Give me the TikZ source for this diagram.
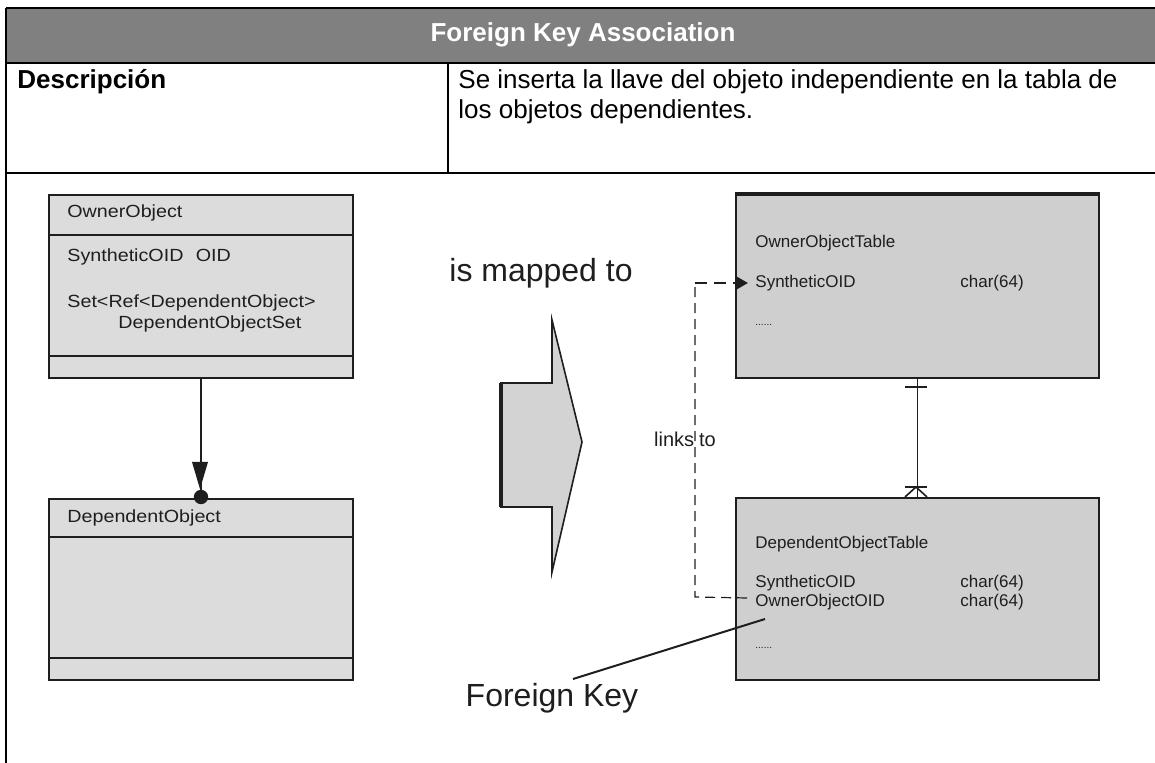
\documentclass[tikz,border=0pt]{standalone}
\usepackage{fontspec}
\setmainfont{Liberation Sans}
\newfontfamily\umlfont{Liberation Sans}[FakeStretch=1.12]
\usetikzlibrary{arrows.meta}

\definecolor{headgray}{RGB}{128,128,128}
\definecolor{umlgray}{RGB}{220,220,220}
\definecolor{tabgray}{RGB}{207,207,207}
\definecolor{shiftgray}{RGB}{211,211,211}
\definecolor{ink}{RGB}{30,30,30}

\begin{document}
\begin{tikzpicture}[x=0.5pt,y=-0.5pt,
  frame/.style={line width=1pt,black},
  celltext/.style={font=\fontsize{13}{15}\selectfont,anchor=west,inner sep=0pt},
  umltext/.style={font=\umlfont\fontsize{8.8}{10}\selectfont,anchor=west,inner sep=0pt,text=ink},
  tabtext/.style={font=\fontsize{8.5}{10}\selectfont,anchor=west,inner sep=0pt,text=ink},
  bigtext/.style={font=\fontsize{16}{18}\selectfont,inner sep=0pt,text=ink},
  classbox/.style={draw=ink,fill=umlgray,line width=1pt,anchor=north west,
    minimum width=152pt,inner sep=0pt},
  tablebox/.style={draw=ink,fill=tabgray,line width=1pt,anchor=north west,
    minimum width=181.5pt,inner sep=0pt},
  divider/.style={draw=ink,line width=0.7pt},
  link/.style={draw=ink,dashed,dash pattern=on 5pt off 3pt,line width=0.6pt},
  linkhead/.style={draw=ink,dash pattern=on 6pt off 3.5pt,line width=1.3pt},
]
\useasboundingbox (0,0) rectangle (1155,763);

% ---- outer table ----
\fill[headgray] (6,8) rectangle (1160,62);
\draw[frame] (6,8) -- (1160,8);
\draw[frame] (6,63) -- (1160,63);
\draw[frame] (6,173) -- (1160,173);
\draw[frame] (6,8) -- (6,770);
\draw[frame] (448,63) -- (448,173);

\node[font=\bfseries\fontsize{13}{15}\selectfont,text=white,inner sep=0pt] (title) at (583,35) {Foreign Key Association};
\node[celltext,font=\bfseries\fontsize{13}{15}\selectfont] (desc) at (17,82) {Descripción};
\node[celltext] (descA) at (458,82) {Se inserta la llave del objeto independiente en la tabla de};
\node[celltext] (descB) at (458,112) {los objetos dependientes.};

% ---- object model ----
\node[classbox,minimum height=91.5pt] (owner) at (48,194) {};
\draw[divider] (48,235) -- (352,235);
\draw[divider] (48,356) -- (352,356);
\node[umltext] (ownerName) at (67,213) {OwnerObject};
\node[umltext] (ownerOID) at (67,257) {SyntheticOID\hspace{0.7em}OID};
\node[umltext] (ownerSetA) at (67,303) {Set<Ref<DependentObject>};
\node[umltext] (ownerSetB) at (118,324) {DependentObjectSet};

\node[classbox,minimum height=90.5pt] (dep) at (48,498) {};
\draw[divider] (48,537) -- (352,537);
\draw[divider] (48,658) -- (352,658);
\node[umltext] (depName) at (67,518) {DependentObject};

\draw[ink,line width=0.9pt] (owner.south) -- (dep.north);
\fill[ink] (192,462) -- (208,462) -- (200,489) -- cycle;
\fill[ink] (dep.north) ++(0,-1) circle (3.6pt);

% ---- mapping arrow ----
\node[bigtext] (mapped) at (541,273) {is mapped to};
\filldraw[fill=shiftgray,draw=ink,line width=0.8pt,line join=miter]
  (501,383) -- (552,383) -- (552,320) -- (582,442) -- (552,572)
  -- (552,507) -- (501,507) -- cycle;
\draw[ink,line width=1.6pt] (501,383) -- (501,507);

% ---- relational model ----
\node[tablebox,minimum height=91.5pt] (ownerT) at (735,194) {};
\draw[ink,line width=1.6pt] (ownerT.north west) -- (ownerT.north east);
\node[tabtext] (ownerTName) at (755,243) {OwnerObjectTable};
\node[tabtext] (ownerTOID) at (755,283) {SyntheticOID};
\node[tabtext] (ownerTOIDType) at (960,283) {char(64)};
\node[tabtext,font=\fontsize{5}{6}\selectfont] (ownerTMore) at (755,325) {......};

\node[tablebox,minimum height=91pt] (depT) at (735,497) {};
\node[tabtext] (depTName) at (755,544) {DependentObjectTable};
\node[tabtext] (depTOID) at (755,583) {SyntheticOID};
\node[tabtext] (depTOIDType) at (960,583) {char(64)};
\node[tabtext] (depTFK) at (755,602) {OwnerObjectOID};
\node[tabtext] (depTFKType) at (960,602) {char(64)};
\node[tabtext,font=\fontsize{5}{6}\selectfont] (depTMore) at (755,648) {......};

% one-to-many relationship
\draw[ink,line width=0.8pt] (ownerT.south) -- (depT.north);
\draw[ink,line width=0.8pt] (905,387) -- (927,387);
\draw[ink,line width=0.8pt] (905,487) -- (927,487);
\draw[ink,line width=0.8pt] (905,497) -- (916,487) -- (927,497);

% foreign key reference
\coordinate (bend) at (695,283);
\draw[link] ([xshift=-4pt,yshift=2pt]depTFK.west) -- (695,597) -- (bend);
\draw[linkhead,-{Triangle[length=6pt,width=6.5pt]}] (bend) -- ([xshift=-3.5pt]ownerTOID.west);
\node[font=\fontsize{10}{12}\selectfont,inner sep=0pt,text=ink] (linksto) at (685,439) {links\hspace{0.25em}to};

% foreign key label
\node[bigtext] (fk) at (552,698) {Foreign Key};
\coordinate (fkTail) at (573,679);
\coordinate (fkHead) at (765,619);
\draw[ink,line width=1pt] (fkTail) -- (fkHead);

\end{tikzpicture}
\end{document}
